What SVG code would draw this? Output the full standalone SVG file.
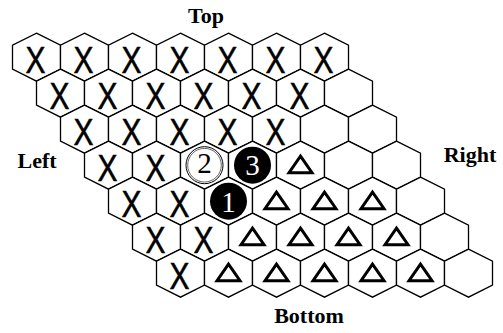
<svg xmlns="http://www.w3.org/2000/svg" xmlns:xlink="http://www.w3.org/1999/xlink" width="503" height="333" viewBox="0 0 503 333">
<style>
.hex{fill:#fff;stroke:#000;stroke-width:1.3;stroke-linejoin:miter}
.x{font-family:"Liberation Sans",Arial,sans-serif;font-size:36px;fill:#000;stroke:#000;stroke-width:0.5;text-anchor:middle}
.tri{fill:none;stroke:#000;stroke-width:3;stroke-linejoin:miter}
.lbl{font-family:"Liberation Serif","Times New Roman",serif;font-weight:bold;font-size:22px;fill:#000;text-anchor:middle}
.num{font-family:"Liberation Serif","Times New Roman",serif;font-size:29px;text-anchor:middle}
.bs{fill:#000}
.ws{fill:#fff;stroke:#000;stroke-width:1}
.wsi{fill:none;stroke:#000;stroke-width:0.6}
</style>
<defs>
<polygon id="h" class="hex" points="0,-24 24,-12 24,12 0,24 -24,12 -24,-12"/>
<polygon id="t" class="tri" points="0,-9 11.5,7.5 -11.5,7.5"/>
</defs>
<g id="labels">
<text class="lbl" x="206" y="23">Top</text>
<text class="lbl" x="37" y="168">Left</text>
<text class="lbl" x="470" y="162">Right</text>
<text class="lbl" x="309" y="323">Bottom</text>
</g>
<g id="board">
<!-- row 1 -->
<g id="c1-1" transform="translate(36.5,57.2)"><use xlink:href="#h"/><text class="x" x="-1" y="16" textLength="20" lengthAdjust="spacingAndGlyphs">X</text></g>
<g id="c1-2" transform="translate(84.5,57.2)"><use xlink:href="#h"/><text class="x" x="-1" y="16" textLength="20" lengthAdjust="spacingAndGlyphs">X</text></g>
<g id="c1-3" transform="translate(132.5,57.2)"><use xlink:href="#h"/><text class="x" x="-1" y="16" textLength="20" lengthAdjust="spacingAndGlyphs">X</text></g>
<g id="c1-4" transform="translate(180.5,57.2)"><use xlink:href="#h"/><text class="x" x="-1" y="16" textLength="20" lengthAdjust="spacingAndGlyphs">X</text></g>
<g id="c1-5" transform="translate(228.5,57.2)"><use xlink:href="#h"/><text class="x" x="-1" y="16" textLength="20" lengthAdjust="spacingAndGlyphs">X</text></g>
<g id="c1-6" transform="translate(276.5,57.2)"><use xlink:href="#h"/><text class="x" x="-1" y="16" textLength="20" lengthAdjust="spacingAndGlyphs">X</text></g>
<g id="c1-7" transform="translate(324.5,57.2)"><use xlink:href="#h"/><text class="x" x="-1" y="16" textLength="20" lengthAdjust="spacingAndGlyphs">X</text></g>
<!-- row 2 -->
<g id="c2-1" transform="translate(60.5,93.2)"><use xlink:href="#h"/><text class="x" x="-1" y="16" textLength="20" lengthAdjust="spacingAndGlyphs">X</text></g>
<g id="c2-2" transform="translate(108.5,93.2)"><use xlink:href="#h"/><text class="x" x="-1" y="16" textLength="20" lengthAdjust="spacingAndGlyphs">X</text></g>
<g id="c2-3" transform="translate(156.5,93.2)"><use xlink:href="#h"/><text class="x" x="-1" y="16" textLength="20" lengthAdjust="spacingAndGlyphs">X</text></g>
<g id="c2-4" transform="translate(204.5,93.2)"><use xlink:href="#h"/><text class="x" x="-1" y="16" textLength="20" lengthAdjust="spacingAndGlyphs">X</text></g>
<g id="c2-5" transform="translate(252.5,93.2)"><use xlink:href="#h"/><text class="x" x="-1" y="16" textLength="20" lengthAdjust="spacingAndGlyphs">X</text></g>
<g id="c2-6" transform="translate(300.5,93.2)"><use xlink:href="#h"/><text class="x" x="-1" y="16" textLength="20" lengthAdjust="spacingAndGlyphs">X</text></g>
<g id="c2-7" transform="translate(348.5,93.2)"><use xlink:href="#h"/></g>
<!-- row 3 -->
<g id="c3-1" transform="translate(84.5,129.2)"><use xlink:href="#h"/><text class="x" x="-1" y="16" textLength="20" lengthAdjust="spacingAndGlyphs">X</text></g>
<g id="c3-2" transform="translate(132.5,129.2)"><use xlink:href="#h"/><text class="x" x="-1" y="16" textLength="20" lengthAdjust="spacingAndGlyphs">X</text></g>
<g id="c3-3" transform="translate(180.5,129.2)"><use xlink:href="#h"/><text class="x" x="-1" y="16" textLength="20" lengthAdjust="spacingAndGlyphs">X</text></g>
<g id="c3-4" transform="translate(228.5,129.2)"><use xlink:href="#h"/><text class="x" x="-1" y="16" textLength="20" lengthAdjust="spacingAndGlyphs">X</text></g>
<g id="c3-5" transform="translate(276.5,129.2)"><use xlink:href="#h"/><text class="x" x="-1" y="16" textLength="20" lengthAdjust="spacingAndGlyphs">X</text></g>
<g id="c3-6" transform="translate(324.5,129.2)"><use xlink:href="#h"/></g>
<g id="c3-7" transform="translate(372.5,129.2)"><use xlink:href="#h"/></g>
<!-- row 4 -->
<g id="c4-1" transform="translate(108.5,165.2)"><use xlink:href="#h"/><text class="x" x="-1" y="16" textLength="20" lengthAdjust="spacingAndGlyphs">X</text></g>
<g id="c4-2" transform="translate(156.5,165.2)"><use xlink:href="#h"/><text class="x" x="-1" y="16" textLength="20" lengthAdjust="spacingAndGlyphs">X</text></g>
<g id="c4-3" transform="translate(204.5,165.2)"><use xlink:href="#h"/><circle class="ws" r="18.5"/><circle class="wsi" r="16.8"/><text class="num" y="8" fill="#000">2</text></g>
<g id="c4-4" transform="translate(252.5,165.2)"><use xlink:href="#h"/><circle class="bs" r="18.5"/><text class="num" y="10" fill="#fff">3</text></g>
<g id="c4-5" transform="translate(300.5,165.2)"><use xlink:href="#h"/><use xlink:href="#t"/></g>
<g id="c4-6" transform="translate(348.5,165.2)"><use xlink:href="#h"/></g>
<g id="c4-7" transform="translate(396.5,165.2)"><use xlink:href="#h"/></g>
<!-- row 5 -->
<g id="c5-1" transform="translate(132.5,201.2)"><use xlink:href="#h"/><text class="x" x="-1" y="16" textLength="20" lengthAdjust="spacingAndGlyphs">X</text></g>
<g id="c5-2" transform="translate(180.5,201.2)"><use xlink:href="#h"/><text class="x" x="-1" y="16" textLength="20" lengthAdjust="spacingAndGlyphs">X</text></g>
<g id="c5-3" transform="translate(228.5,201.2)"><use xlink:href="#h"/><circle class="bs" r="18.5"/><text class="num" y="11" fill="#fff">1</text></g>
<g id="c5-4" transform="translate(276.5,201.2)"><use xlink:href="#h"/><use xlink:href="#t"/></g>
<g id="c5-5" transform="translate(324.5,201.2)"><use xlink:href="#h"/><use xlink:href="#t"/></g>
<g id="c5-6" transform="translate(372.5,201.2)"><use xlink:href="#h"/><use xlink:href="#t"/></g>
<g id="c5-7" transform="translate(420.5,201.2)"><use xlink:href="#h"/></g>
<!-- row 6 -->
<g id="c6-1" transform="translate(156.5,237.2)"><use xlink:href="#h"/><text class="x" x="-1" y="16" textLength="20" lengthAdjust="spacingAndGlyphs">X</text></g>
<g id="c6-2" transform="translate(204.5,237.2)"><use xlink:href="#h"/><text class="x" x="-1" y="16" textLength="20" lengthAdjust="spacingAndGlyphs">X</text></g>
<g id="c6-3" transform="translate(252.5,237.2)"><use xlink:href="#h"/><use xlink:href="#t"/></g>
<g id="c6-4" transform="translate(300.5,237.2)"><use xlink:href="#h"/><use xlink:href="#t"/></g>
<g id="c6-5" transform="translate(348.5,237.2)"><use xlink:href="#h"/><use xlink:href="#t"/></g>
<g id="c6-6" transform="translate(396.5,237.2)"><use xlink:href="#h"/><use xlink:href="#t"/></g>
<g id="c6-7" transform="translate(444.5,237.2)"><use xlink:href="#h"/></g>
<!-- row 7 -->
<g id="c7-1" transform="translate(180.5,273.2)"><use xlink:href="#h"/><text class="x" x="-1" y="16" textLength="20" lengthAdjust="spacingAndGlyphs">X</text></g>
<g id="c7-2" transform="translate(228.5,273.2)"><use xlink:href="#h"/><use xlink:href="#t"/></g>
<g id="c7-3" transform="translate(276.5,273.2)"><use xlink:href="#h"/><use xlink:href="#t"/></g>
<g id="c7-4" transform="translate(324.5,273.2)"><use xlink:href="#h"/><use xlink:href="#t"/></g>
<g id="c7-5" transform="translate(372.5,273.2)"><use xlink:href="#h"/><use xlink:href="#t"/></g>
<g id="c7-6" transform="translate(420.5,273.2)"><use xlink:href="#h"/><use xlink:href="#t"/></g>
<g id="c7-7" transform="translate(468.5,273.2)"><use xlink:href="#h"/></g>
</g>
<g id="connectors"/>
</svg>
